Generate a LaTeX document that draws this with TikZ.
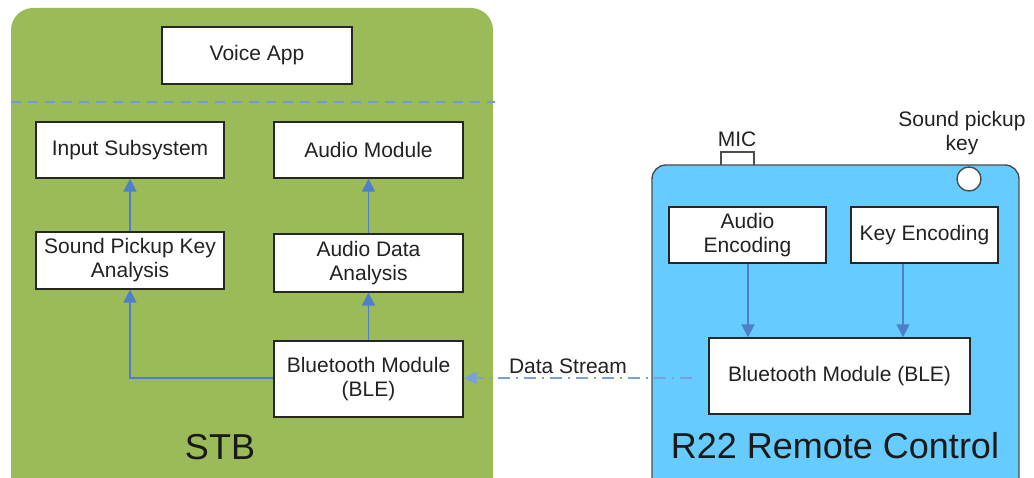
\documentclass[tikz,border=0pt]{standalone}
\usepackage{fontspec}
\setmainfont{Liberation Sans}
\usetikzlibrary{arrows.meta}
\definecolor{stbgreen}{HTML}{9BBB59}
\definecolor{rcblue}{HTML}{66CCFF}
\definecolor{arrowblue}{HTML}{4F7FC8}
\definecolor{txt}{HTML}{222222}
\begin{document}
\begin{tikzpicture}[x=1pt,y=-1pt,
  every node/.style={font=\fontsize{21}{24}\selectfont, text=txt},
  module/.style={draw=black!85, line width=1.4pt, fill=white, align=center, inner sep=0pt},
  tip/.tip={Triangle[length=13pt,width=13pt]},
  flow/.style={draw=arrowblue, line width=1.6pt, -tip},
  big/.style={font=\fontsize{36}{40}\selectfont, text=black!90}]
\useasboundingbox (0,0) rectangle (1034,478);
% containers
\fill[stbgreen, rounded corners=22pt] (11,8) rectangle (493,500);
\draw[draw=black!70, line width=1.2pt, fill=white] (721,152) rectangle (754,170);
\draw[draw=black!70, line width=1.4pt, fill=rcblue, rounded corners=14pt] (652,165) rectangle (1019,500);
\draw[draw=black!70, line width=1.4pt, fill=white] (969,179) circle (12);
% dashed separator
\coordinate (dl) at (11,102);
\coordinate (dr) at (495,102);
\draw[draw=arrowblue!80, line width=1.3pt, dash pattern=on 10pt off 7pt] (dl) -- (dr);
% STB modules
\node[module, minimum width=190pt, minimum height=57pt] (voice) at (257,55.5) {Voice App};
\node[module, minimum width=188pt, minimum height=56pt] (input) at (130,150) {Input Subsystem};
\node[module, minimum width=189pt, minimum height=56pt] (audio) at (368.5,150) {Audio Module};
\node[module, minimum width=188pt, minimum height=57pt] (spka) at (130,260.5) {Sound Pickup Key\\Analysis};
\node[module, minimum width=189pt, minimum height=58pt] (ada) at (368.5,263) {Audio Data\\Analysis};
\node[module, minimum width=189pt, minimum height=76pt] (ble) at (368.5,379) {Bluetooth Module\\(BLE)};
\node[big] (stb) at (220,447) {STB};
% Remote modules
\node (mic) at (737,139) {MIC};
\node[align=center] (spk) at (962,133) {Sound pickup\\key};
\node[module, minimum width=157pt, minimum height=56pt] (aenc) at (747.5,235) {Audio\\Encoding};
\node[module, minimum width=147pt, minimum height=56pt] (kenc) at (924.5,235) {Key Encoding};
\node[module, minimum width=261pt, minimum height=76pt] (rble) at (839.5,376) {Bluetooth Module (BLE)};
\node[big] (r22) at (835,446) {R22 Remote Control};
% STB arrows
\draw[flow] (spka) -- (input);
\draw[flow] (ada) -- (audio);
\draw[flow] (ble) -- (ada);
\draw[flow] (ble.west |- 0,378) -| (spka.south);
% Remote arrows
\draw[flow] (aenc.south -| 748,0) -- (rble.north -| 748,0);
\draw[flow] (kenc.south -| 903,0) -- (rble.north -| 903,0);
% data stream
\draw[draw=arrowblue!75, line width=1.5pt, dash pattern=on 12pt off 6pt on 2pt off 6pt,
  -tip, shorten <=16pt] (rble.west |- 0,378) -- (ble.east |- 0,378);
\node (ds) at (568,366) {Data Stream};
\end{tikzpicture}
\end{document}
